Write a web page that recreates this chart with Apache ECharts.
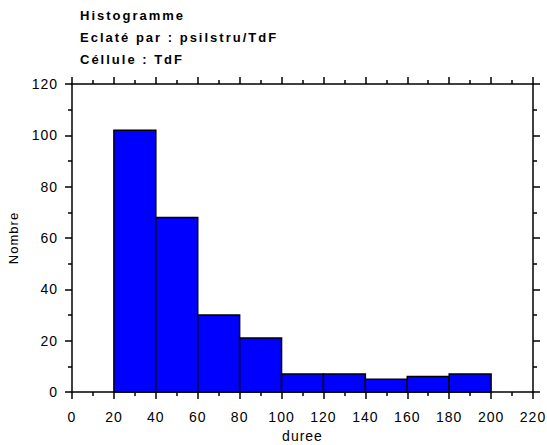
<!DOCTYPE html>
<html>
<head>
<meta charset="utf-8">
<script src="https://cdn.jsdelivr.net/npm/echarts@6/dist/echarts.min.js"></script>
<style>
  html, body { margin: 0; padding: 0; background: #fff; }
  #main { width: 547px; height: 445px; }
  /* espacement des lettres comme l'original */
  #main text { letter-spacing: 1px; }
  #main text[style*="bold"] { letter-spacing: 2px; }
</style>
</head>
<body>
<div id="main"></div>
<script>
// histogramme des durees
var binStart = [20, 40, 60, 80, 100, 120, 140, 160, 180];
var binEnd = [40, 60, 80, 100, 120, 140, 160, 180, 200];
var counts = [102, 68, 30, 21, 7, 7, 5, 6, 7];
var titleLines = ['Histogramme', 'Eclaté par : psilstru/TdF', 'Céllule : TdF'];

var data = binStart.map(function (s, i) { return [s, binEnd[i], counts[i]]; });

var font = 'Liberation Sans, Arial, sans-serif';
var axisCommon = {
  axisLine: { onZero: false, lineStyle: { color: '#000', width: 1.5 } },
  axisTick: { show: true, length: 7, lineStyle: { color: '#000', width: 1.5 } },
  minorTick: { show: true, splitNumber: 2, length: 4, lineStyle: { color: '#000', width: 1.5 } },
  splitLine: { show: false }
};

function xAx(pos, labels) {
  return Object.assign({}, axisCommon, {
    type: 'value', position: pos, min: 0, max: 220, interval: 20,
    name: labels ? 'duree' : '', nameLocation: 'middle', nameGap: 37,
    nameTextStyle: { color: '#000', fontSize: 14, fontFamily: font },
    axisLabel: { show: labels, color: '#000', fontSize: 14, fontFamily: font, margin: 18 }
  });
}
function yAx(pos, labels) {
  return Object.assign({}, axisCommon, {
    type: 'value', position: pos, min: 0, max: 120, interval: 20,
    name: labels ? 'Nombre' : '', nameLocation: 'middle', nameGap: 52,
    nameTextStyle: { color: '#000', fontSize: 13, fontFamily: font },
    axisLabel: { show: labels, color: '#000', fontSize: 14, fontFamily: font, margin: 14 }
  });
}

var chart = echarts.init(document.getElementById('main'), null, { renderer: 'svg' });
chart.setOption({
  animation: false,
  backgroundColor: '#fff',
  title: {
    text: titleLines.join('\n'),
    left: 75, top: -1,
    textStyle: { color: '#000', fontSize: 13, fontWeight: 'bold', fontFamily: font, lineHeight: 22 }
  },
  grid: { left: 72, right: 14, top: 84, bottom: 53, outerBoundsMode: 'none' },
  xAxis: [xAx('bottom', true), xAx('top', false)],
  yAxis: [yAx('left', true), yAx('right', false)],
  series: [{
    type: 'custom',
    xAxisIndex: 0,
    yAxisIndex: 0,
    data: data,
    encode: { x: [0, 1], y: 2 },
    renderItem: function (params, api) {
      var p0 = api.coord([api.value(0), api.value(2)]);
      var p1 = api.coord([api.value(1), 0]);
      return {
        type: 'rect',
        shape: { x: p0[0], y: p0[1], width: p1[0] - p0[0], height: p1[1] - p0[1] },
        style: { fill: '#0000ff', stroke: '#000', lineWidth: 1.5 }
      };
    }
  }]
});
</script>
</body>
</html>
